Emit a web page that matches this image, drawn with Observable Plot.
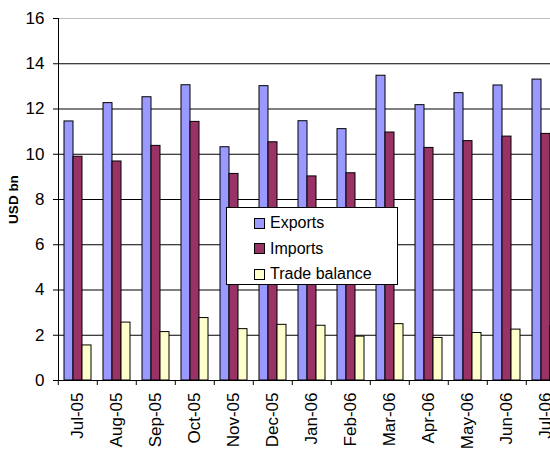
<!DOCTYPE html>
<html>
<head>
<meta charset="utf-8">
<script src="https://cdn.jsdelivr.net/npm/d3@7"></script>
<script src="https://cdn.jsdelivr.net/npm/@observablehq/plot@0.6"></script>
<style>
  html, body { margin: 0; padding: 0; background: #fff; }
  #wrap { position: relative; width: 550px; height: 450px; overflow: hidden; font-family: "Liberation Sans", Arial, sans-serif; }
  #legend { position: absolute; left: 226px; top: 207px; width: 170px; height: 76px; border: 1px solid #000; background: #fff; box-sizing: content-box; font-size: 16px; color: #000; }
  #legend .row { position: absolute; left: 27px; display: flex; align-items: center; height: 20px; }
  #legend .sw { width: 9px; height: 9px; border: 1px solid #000; margin-right: 5px; }
</style>
</head>
<body>
<div id="wrap"></div>
<script>
const months = ["Jul-05","Aug-05","Sep-05","Oct-05","Nov-05","Dec-05","Jan-06","Feb-06","Mar-06","Apr-06","May-06","Jun-06","Jul-06"];
const exportsV = [11.45, 12.26, 12.52, 13.05, 10.31, 13.01, 11.46, 11.11, 13.47, 12.17, 12.70, 13.04, 13.30];
const importsV = [9.89, 9.68, 10.37, 11.43, 9.13, 10.53, 9.02, 9.16, 10.96, 10.28, 10.58, 10.78, 10.90];
const balanceV = [1.55, 2.56, 2.14, 2.76, 2.27, 2.46, 2.42, 1.94, 2.49, 1.88, 2.10, 2.25, 2.40];
const series = ["Exports", "Imports", "Trade balance"];
const colors = ["#9999FF", "#993366", "#FFFFCC"];
const yTicks = [0, 2, 4, 6, 8, 10, 12, 14, 16];

const valuesBySeries = [exportsV, importsV, balanceV];
const data = months.flatMap((m, i) => series.map((s, j) => ({month: m, series: s, value: valuesBySeries[j][i]})));

const W = 550, H = 450, ML = 55, MR = -17.5, MT = 18, MB = 70;
const step = (W - MR - ML) / months.length;

const plot = Plot.plot({
  width: W, height: H,
  marginLeft: ML, marginRight: MR, marginTop: MT, marginBottom: MB,
  style: {fontFamily: "'Liberation Sans', Arial, sans-serif", color: "#000", background: "transparent", overflow: "visible"},
  fx: {domain: months, padding: 0, label: null},
  x: {domain: series, paddingInner: 0, paddingOuter: 0.61, axis: null},
  y: {domain: [0, 16], label: null},
  color: {domain: series, range: colors},
  marks: [
    Plot.ruleY(yTicks.filter(v => v > 0 && v < 16), {stroke: "#000", strokeWidth: 1}),
    Plot.ruleY([16], {stroke: "#bdbdbd", strokeWidth: 1}),
    Plot.barY(data, {fx: "month", x: "series", y: "value", fill: "series", stroke: "#000", strokeWidth: 1}),
    Plot.ruleY([0], {stroke: "#000", strokeWidth: 1}),
    Plot.frame({anchor: "left", facet: "super", stroke: "#000"}),
    Plot.axisY({ticks: yTicks, tickSize: 5, tickPadding: 9, fontSize: 17, label: null, stroke: "#000"}),
    Plot.axisY({ticks: [], label: "USD bn", labelAnchor: "center", labelArrow: "none", labelOffset: 50, fontSize: 13.5, fontWeight: "bold"}),
    Plot.axisFx({anchor: "bottom", tickSize: 0, tickPadding: 12, tickRotate: -90, fontSize: 17, label: null}),
    Plot.axisFx({anchor: "bottom", tickSize: 5, tickFormat: () => "", dx: -step / 2, label: null, stroke: "#000"})
  ]
});

const wrap = document.getElementById("wrap");
wrap.appendChild(plot);

const legend = document.createElement("div");
legend.id = "legend";
series.forEach((s, j) => {
  const row = document.createElement("div");
  row.className = "row";
  row.style.top = (5 + j * 25.5) + "px";
  const sw = document.createElement("div");
  sw.className = "sw";
  sw.style.background = colors[j];
  const t = document.createElement("span");
  t.textContent = s;
  row.appendChild(sw);
  row.appendChild(t);
  legend.appendChild(row);
});
wrap.appendChild(legend);
</script>
</body>
</html>
